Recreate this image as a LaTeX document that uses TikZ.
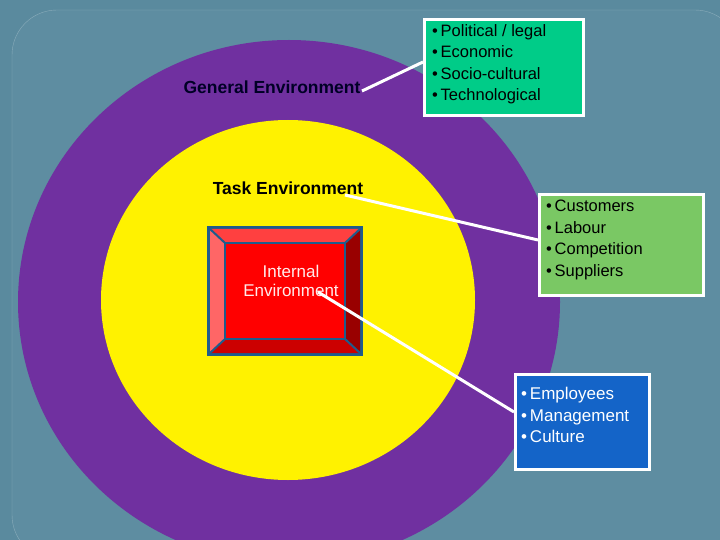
\documentclass[tikz,border=0pt]{standalone}
\usepackage{fontspec}
\setmainfont{Liberation Sans}
\begin{document}
\begin{tikzpicture}[x=1pt,y=-1pt,
  boxs/.style={draw=white,line width=3pt,anchor=north west,inner sep=0pt},
  lst/.style={anchor=north west,align=left,font=\fontsize{16.5}{21.5}\selectfont,inner sep=0pt},
  conn/.style={draw=white,line width=3pt}]
\definecolor{bg}{HTML}{5A8A9E}
\definecolor{bg2}{HTML}{5E8DA1}
\definecolor{purp}{HTML}{7030A0}
\definecolor{edge}{HTML}{1F5C8C}
\fill[bg] (0,0) rectangle (720,540);
\useasboundingbox (0,0) rectangle (720,540);
\draw[draw=white!30!bg,fill=bg2,rounded corners=45pt] (12,10) rectangle (740,560);
\fill[purp] (289,302) ellipse [x radius=271, y radius=262];
\fill[yellow] (288,300) ellipse [x radius=187, y radius=180];
% bevel box
\fill[edge] (207,226) rectangle (363,356);
\fill[red!75!white] (210,229) -- (360,229) -- (345,243) -- (225,243) -- cycle;
\fill[red!60!white] (210,229) -- (225,243) -- (225,339) -- (210,353) -- cycle;
\fill[red!60!black] (360,229) -- (360,353) -- (345,339) -- (345,243) -- cycle;
\fill[red!80!black] (210,353) -- (225,339) -- (345,339) -- (360,353) -- cycle;
\draw[edge,line width=2pt] (210,229) -- (225,243) (360,229) -- (345,243) (210,353) -- (225,339) (360,353) -- (345,339);
\draw[edge,line width=2pt,fill=red] (225,243) rectangle (345,339);
\node[align=center,text=white!92!red,font=\fontsize{17}{19.5}\selectfont] (int) at (291,281) {Internal\\Environment};
\node[font=\bfseries\fontsize{17.5}{18}\selectfont,text=black!85!blue] (gen) at (272,87) {General Environment};
\node[font=\bfseries\fontsize{17.5}{18}\selectfont,text=black] (task) at (288,188) {Task Environment};
\node[boxs,fill={rgb,255:red,0;green,204;blue,136},minimum width=159pt,minimum height=96pt] (b1) at (423,18) {};
\node[lst] (t1) at (432,24) {•\,Political / legal\\•\,Economic\\•\,Socio-cultural\\•\,Technological};
\node[boxs,fill={rgb,255:red,122;green,200;blue,100},minimum width=164pt,minimum height=101pt] (b2) at (538,193) {};
\node[lst] (t2) at (546,200) {•\,Customers\\•\,Labour\\•\,Competition\\•\,Suppliers};
\node[boxs,fill={rgb,255:red,20;green,100;blue,200},minimum width=134pt,minimum height=95pt] (b3) at (514,373) {};
\node[lst,text=white,font=\fontsize{17}{21.5}\selectfont] (t3) at (521,387) {•\,Employees\\•\,Management\\•\,Culture};
\coordinate (g1) at (362,91);
\coordinate (k1) at (345,195);
\coordinate (i1) at (318,292);
\draw[conn] (g1) -- (b1.west|-0,62);
\draw[conn] (k1) -- (b2.west|-0,240);
\draw[conn] (i1) -- (b3.west|-0,412);
\end{tikzpicture}
\end{document}
